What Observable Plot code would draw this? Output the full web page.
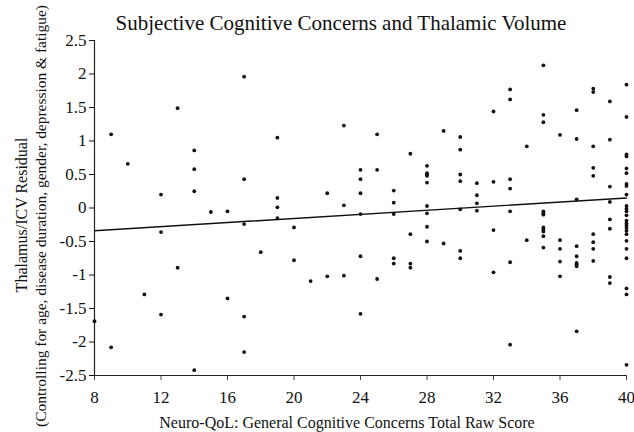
<!DOCTYPE html>
<html>
<head>
<meta charset="utf-8">
<script src="https://cdn.jsdelivr.net/npm/d3@7"></script>
<script src="https://cdn.jsdelivr.net/npm/@observablehq/plot@0.6"></script>
<style>
  html, body { margin: 0; padding: 0; background: #fff; }
  #chart { width: 634px; height: 432px; }
</style>
</head>
<body>
<div id="chart"></div>
<script>
// Neuro-QoL raw score columns and the residuals observed at each score
const scores = [8, 9, 10, 11, 12, 13, 14, 15, 16, 17, 18, 19, 20, 21, 22, 23, 24, 25, 26, 27, 28, 29, 30, 31, 32, 33, 34, 35, 36, 37, 38, 39, 40];
const residuals = [
  [-1.69],
  [1.10, -2.08],
  [0.66],
  [-1.29],
  [0.20, -0.36, -1.59],
  [1.49, -0.89],
  [0.86, 0.58, 0.25, -2.42],
  [-0.06],
  [-0.05, -1.35],
  [1.96, 0.43, -0.24, -1.62, -2.15],
  [-0.66],
  [1.05, 0.15, 0.01, -0.15],
  [-0.29, -0.78],
  [-1.09],
  [0.22, -1.02],
  [1.23, 0.04, -1.01],
  [0.57, 0.43, 0.22, -0.09, -0.72, -1.58],
  [1.10, 0.57, -1.06],
  [0.26, 0.08, -0.09, -0.75, -0.83],
  [0.81, -0.39, -0.83, -0.89],
  [0.63, 0.52, 0.50, 0.48, 0.38, 0.03, -0.08, -0.28, -0.50],
  [1.15, -0.53],
  [1.06, 0.87, 0.50, 0.40, -0.02, -0.64, -0.75],
  [0.37, 0.19, 0.07, -0.04],
  [1.44, 0.39, -0.33, -0.96],
  [1.77, 1.62, 0.43, 0.29, -0.05, -0.81, -2.04],
  [0.92, -0.48],
  [2.13, 1.39, 1.28, -0.05, -0.08, -0.10, -0.29, -0.32, -0.35, -0.42, -0.59],
  [1.09, -0.48, -0.61, -0.80, -1.02],
  [1.46, 1.03, 0.13, -0.57, -0.72, -0.82, -0.84, -0.87, -1.84],
  [1.78, 1.73, 0.92, 0.60, 0.48, -0.39, -0.51, -0.61, -0.79],
  [1.59, 1.02, 0.32, 0.09, -0.17, -0.31, -1.03, -1.12],
  [1.84, 1.36, 0.80, 0.77, 0.59, 0.52, 0.36, 0.33, 0.20, 0.03, -0.01, -0.05, -0.11, -0.19, -0.23, -0.26, -0.30, -0.34, -0.39, -0.49, -0.61, -0.75, -1.20, -1.29, -2.34]
];
// fitted regression line
const fitX = [8, 40];
const fitY = [-0.34, 0.15];
const xTicks = [8, 12, 16, 20, 24, 28, 32, 36, 40];
const yTicks = [-2.5, -2, -1.5, -1, -0.5, 0, 0.5, 1, 1.5, 2, 2.5];
const titleText = "Subjective Cognitive Concerns and Thalamic Volume";
const xLabel = "Neuro-QoL: General Cognitive Concerns Total Raw Score";
const yLabel1 = "Thalamus/ICV Residual";
const yLabel2 = "(Controlling for age, disease duration, gender, depression & fatigue)";

const points = scores.flatMap((s, i) => residuals[i].map(r => ({score: s, resid: r})));
const fit = fitX.map((x, i) => ({x, y: fitY[i]}));

const font = "'Liberation Serif', 'DejaVu Serif', serif";

const svg = Plot.plot({
  width: 634,
  height: 432,
  marginLeft: 94,
  marginRight: 8,
  marginTop: 40,
  marginBottom: 57,
  style: {fontFamily: font, fontSize: "16px", color: "#111", background: "#fff"},
  x: {domain: [8, 40]},
  y: {domain: [-2.5, 2.5]},
  marks: [
    Plot.axisX({ticks: xTicks, tickSize: 5, tickPadding: 10, label: null, tickFormat: d => String(d), fontSize: 17, stroke: "#444"}),
    Plot.axisY({ticks: yTicks, tickSize: 5, tickPadding: 3, label: null, tickFormat: d => String(d), fontSize: 17}),
    Plot.ruleX([8], {stroke: "#222", strokeWidth: 1.2}),
    Plot.ruleY([-2.5], {stroke: "#222", strokeWidth: 1.2}),
    Plot.line(fit, {x: "x", y: "y", stroke: "#111", strokeWidth: 1.4}),
    Plot.dot(points, {x: "score", y: "resid", r: 1.9, fill: "#111", stroke: "none"})
  ]
});

const s = d3.select(svg);
s.append("text").attr("x", 341).attr("y", 30).attr("text-anchor", "middle")
  .attr("font-family", font).attr("font-size", 21).attr("fill", "#111").text(titleText);
s.append("text").attr("x", 347).attr("y", 428).attr("text-anchor", "middle")
  .attr("font-family", font).attr("font-size", 16).attr("fill", "#111").text(xLabel);
s.append("text").attr("transform", "translate(27,215) rotate(-90)").attr("text-anchor", "middle")
  .attr("font-family", font).attr("font-size", 16).attr("fill", "#111").text(yLabel1);
s.append("text").attr("transform", "translate(46,216) rotate(-90)").attr("text-anchor", "middle")
  .attr("font-family", font).attr("font-size", 15.5).attr("fill", "#111")
  .attr("textLength", 422).attr("lengthAdjust", "spacingAndGlyphs").text(yLabel2);

document.getElementById("chart").appendChild(svg);
</script>
</body>
</html>
